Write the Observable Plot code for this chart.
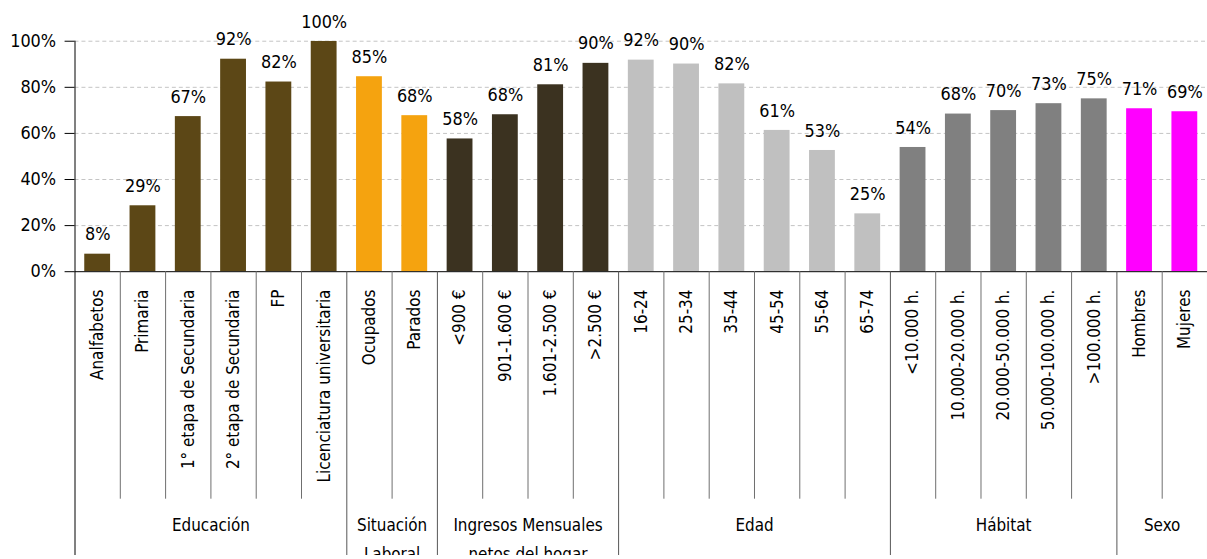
<!DOCTYPE html>
<html><head><meta charset="utf-8">
<script src="https://cdn.jsdelivr.net/npm/d3@7"></script>
<script src="https://cdn.jsdelivr.net/npm/@observablehq/plot@0.6"></script>
<style>
html,body{margin:0;padding:0;background:#fff;overflow:hidden;width:1207px;height:559px;}
#chart svg{display:block;}
</style></head><body><div id="chart"></div>
<script>
const categories = ["Analfabetos","Primaria","1° etapa de Secundaria","2° etapa de Secundaria","FP","Licenciatura universitaria","Ocupados","Parados","<900 €","901-1.600 €","1.601-2.500 €",">2.500 €","16-24","25-34","35-44","45-54","55-64","65-74","<10.000 h.","10.000-20.000 h.","20.000-50.000 h.","50.000-100.000 h.",">100.000 h.","Hombres","Mujeres"];
const values = [7.6,28.6,67.3,92.2,82.3,99.9,84.6,67.7,57.6,68.1,81.1,90.4,91.8,90.1,81.5,61.3,52.6,25.1,53.9,68.4,69.9,72.9,75.0,70.7,69.4];
const groupNames = ["Educación","Situación\nLaboral","Ingresos Mensuales\nnetos del hogar","Edad","Hábitat","Sexo"];
const groupSizes = [6,2,4,6,5,2];
const groupColors = ["#5c4716","#f5a30f","#3b3220","#c0c0c0","#808080","#ff00ff"];
const yTicks = [0,20,40,60,80,100];

// derived structures
const groupOf = [];
const groupStarts = [];
let acc = 0;
groupSizes.forEach((n, g) => { groupStarts.push(acc); for (let k = 0; k < n; k++) groupOf.push(g); acc += n; });
const rows = categories.map((c, i) => ({i, category: c, value: values[i], g: groupOf[i]}));
const groupRows = groupNames.map((name, g) => ({name, mid: groupStarts[g] + groupSizes[g] / 2, start: groupStarts[g]}));
const groupBounds = groupStarts.slice(1).concat([categories.length]);
const minorBounds = d3.range(1, categories.length).filter(b => !groupStarts.includes(b));

const font = "'DejaVu Sans Condensed', 'DejaVu Sans', sans-serif";

const chart = Plot.plot({
  width: 1215, height: 559,
  marginLeft: 75, marginRight: 0, marginTop: 41, marginBottom: 286,
  x: {type: "linear", domain: [0, categories.length], axis: null},
  y: {domain: [0, 100], axis: null},
  color: {type: "identity"},
  style: {fontFamily: font, fontStretch: "condensed", color: "#000", background: "#fff", overflow: "hidden"},
  marks: [
    Plot.gridY(yTicks.filter(d => d > 0), {stroke: "#c4c4c4", strokeOpacity: 1, strokeDasharray: "4,3"}),
    Plot.rectY(rows, {x1: "i", x2: d => d.i + 1, y: "value", fill: d => groupColors[d.g], insetLeft: 9.8, insetRight: 9.8}),
    Plot.ruleY([0], {stroke: "#000"}),
    Plot.axisY(yTicks, {label: null, tickFormat: d => d + "%", tickSize: 10, tickPadding: 9, fontSize: 18, stroke: "#000"}),
    Plot.ruleX([0], {y1: 100, y2: 0, insetBottom: -300, stroke: "#000"}),
    Plot.ruleX(minorBounds, {x: d => d, y1: 0, y2: 0, insetBottom: -229, stroke: "#6e6e6e"}),
    Plot.ruleX(groupBounds, {x: d => d, y1: 0, y2: 0, insetBottom: -300, stroke: "#555"}),
    Plot.text(rows, {x: d => d.i + 0.5, y: "value", text: d => Math.round(d.value) + "%", lineAnchor: "bottom", dy: -14, fontSize: 18, fill: "#000"}),
    Plot.text(rows, {x: d => d.i + 0.5, frameAnchor: "bottom", dy: 18, text: "category", rotate: -90, textAnchor: "end", lineAnchor: "middle", fontSize: 17, fill: "#000"}),
    Plot.text(groupRows, {x: "mid", frameAnchor: "bottom", dy: 241, text: "name", lineAnchor: "top", lineHeight: 1.7, fontSize: 17, fill: "#000"})
  ]
});
document.getElementById("chart").appendChild(chart);
</script>
</body></html>
